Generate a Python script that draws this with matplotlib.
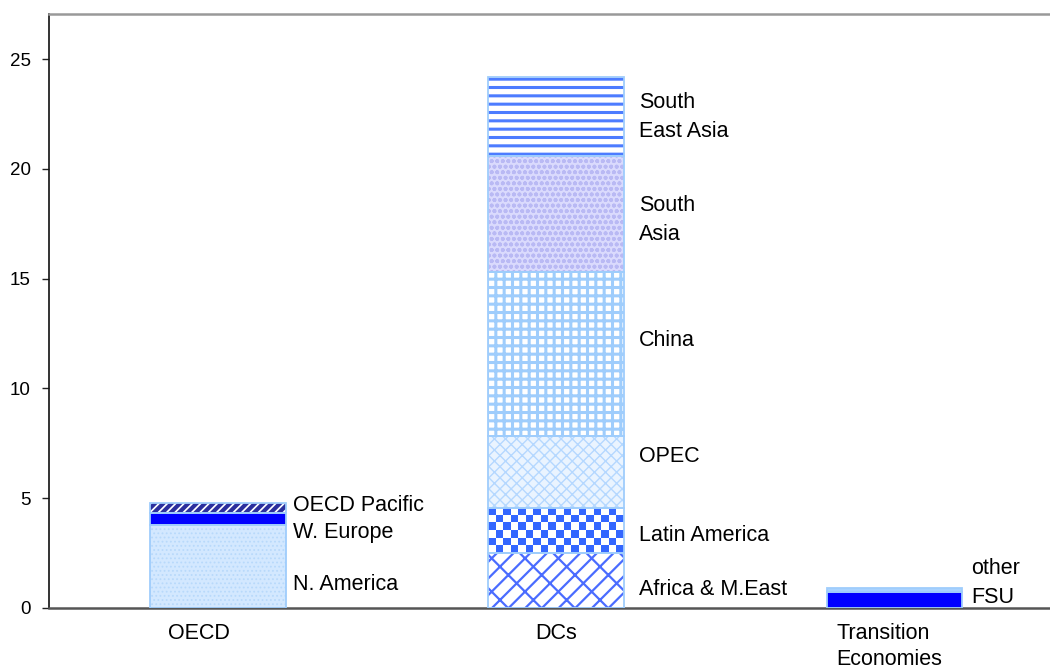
import numpy as np
import matplotlib
matplotlib.use("Agg")
import matplotlib.pyplot as plt
from matplotlib.transforms import ScaledTranslation

plt.rcParams["font.family"] = ["Liberation Sans", "DejaVu Sans"]

# ---- data -------------------------------------------------------------
groups = ["OECD", "DCs", "Transition\nEconomies"]

oecd_labels = ["N. America", "W. Europe", "OECD Pacific"]
oecd_values = [3.78, 0.56, 0.43]

dcs_labels = ["Africa & M.East", "Latin America", "OPEC", "China",
              "South\nAsia", "South\nEast Asia"]
dcs_values = [2.49, 2.05, 3.31, 7.46, 5.27, 3.61]

trans_labels = ["FSU", "other"]
trans_values = [0.71, 0.18]

y_ticks = [0, 5, 10, 15, 20, 25]

# ---- styles per segment ----------------------------------------------
# (face, hatch, hatch colour, hatch linewidth)
styles = {
    "N. America": ("#d3e8ff", "....", "#b8d9fb", 0.8),
    "W. Europe": ("#0000ff", None, None, 1.0),
    "OECD Pacific": ("#ffffff", "////", "#2b2f9e", 3.0),
    "Africa & M.East": ("#ffffff", "//\\", "#4a6cff", 1.6),
    "Latin America": ("checker", None, None, 1.0),
    "OPEC": ("#eaf4ff", "xxx", "#b5d8ff", 1.0),
    "China": ("#ffffff", "++", "#9fcdfc", 2.2),
    "South\nAsia": ("#dadafd", "ooo", "#b9b9f4", 1.2),
    "South\nEast Asia": ("#ffffff", "--", "#4d7cff", 2.2),
    "FSU": ("#0000ff", None, None, 1.0),
    "other": ("#a8d2ff", None, None, 1.0),
}
outline = "#9fcdfc"
label_size = 15.5

fig = plt.figure(figsize=(10.5, 6.7), dpi=100)
ax = fig.add_axes([49 / 1050, 62 / 670, 1 - 49 / 1050, 594 / 670])
ax.set_xlim(-0.5, 2.461)
ax.set_ylim(0, 27.05)

bar_w = 0.4
checker_patches = []


def stack(xpos, labels, values):
    bottom = 0.0
    for lab, val in zip(labels, values):
        face, hatch, hcol, hlw = styles[lab]
        if face == "checker":
            bars = ax.bar(xpos, val, bar_w, bottom=bottom, color="white",
                          edgecolor="none", linewidth=0, zorder=2)
            checker_patches.append(bars[0])
        elif hatch:
            with plt.rc_context({"hatch.linewidth": hlw}):
                ax.bar(xpos, val, bar_w, bottom=bottom, color=face,
                       edgecolor=hcol, hatch=hatch, linewidth=0, zorder=2)
        else:
            ax.bar(xpos, val, bar_w, bottom=bottom, color=face,
                   edgecolor="none", linewidth=0, zorder=2)
        ax.bar(xpos, val, bar_w, bottom=bottom, fill=False,
               edgecolor=outline, linewidth=1.3, zorder=4)
        bottom += val


stack(0, oecd_labels, oecd_values)
stack(1, dcs_labels, dcs_values)
stack(2, trans_labels, trans_values)

# checkerboard texture, clipped to its bar segment
fig.canvas.draw()
for p in checker_patches:
    x0, y0 = p.get_x(), p.get_y()
    x1, y1 = x0 + p.get_width(), y0 + p.get_height()
    (px0, py0), (px1, py1) = ax.transData.transform([(x0, y0), (x1, y1)])
    ncol = max(1, int(round(abs(px1 - px0) / 7.7)))
    nrow = max(1, int(round(abs(py1 - py0) / 7.7)))
    board = (np.add.outer(np.arange(nrow), np.arange(ncol)) % 2)
    rgb = np.where(board[..., None] == 1,
                   np.array([0x33, 0x66, 0xff]) / 255.0,
                   np.array([1.0, 1.0, 1.0]))
    im = ax.imshow(rgb, extent=(x0, x1, y0, y1), origin="lower",
                   interpolation="nearest", aspect="auto", zorder=3)
    im.set_clip_path(p)

# ---- segment labels ---------------------------------------------------
label_pos = {
    "N. America": 1.09, "W. Europe": 3.42, "OECD Pacific": 4.69,
    "Africa & M.East": 0.82, "Latin America": 3.32, "OPEC": 6.92,
    "China": 12.16, "South\nAsia": 17.67, "South\nEast Asia": 22.34,
}


def annotate(xpos, labels, dx):
    for lab in labels:
        ax.text(xpos + bar_w / 2 + dx, label_pos[lab], lab,
                fontsize=label_size, va="center", ha="left",
                linespacing=1.5, zorder=5)


annotate(0, oecd_labels, 0.022)
annotate(1, dcs_labels, 0.045)
ax.text(2 + bar_w / 2 + 0.027, 1.12, "other\nFSU", fontsize=label_size,
        va="center", ha="left", linespacing=1.5, zorder=5)

# ---- axes styling -----------------------------------------------------
ax.set_yticks(y_ticks)
ax.set_yticklabels([str(t) for t in y_ticks], fontsize=13.5)
ax.tick_params(axis="y", direction="out", length=5, width=1, pad=8,
               color="#222222")
ax.set_xticks([0, 1, 2])
ax.set_xticklabels(groups, fontsize=label_size, multialignment="left",
                   linespacing=1.32)
ax.tick_params(axis="x", length=0, pad=10.5)
xt = ax.get_xticklabels()
xt[0].set_transform(xt[0].get_transform()
                    + ScaledTranslation(-19 / 100, 0, fig.dpi_scale_trans))
xt[2].set_transform(xt[2].get_transform()
                    + ScaledTranslation(-5 / 100, 0, fig.dpi_scale_trans))

ax.spines["right"].set_visible(False)
ax.spines["left"].set_color("#111111")
ax.spines["left"].set_linewidth(1.2)
ax.spines["bottom"].set_color("#555555")
ax.spines["bottom"].set_linewidth(1.8)
ax.spines["top"].set_color("#999999")
ax.spines["top"].set_linewidth(1.8)

fig.savefig("out.png", dpi=100)
